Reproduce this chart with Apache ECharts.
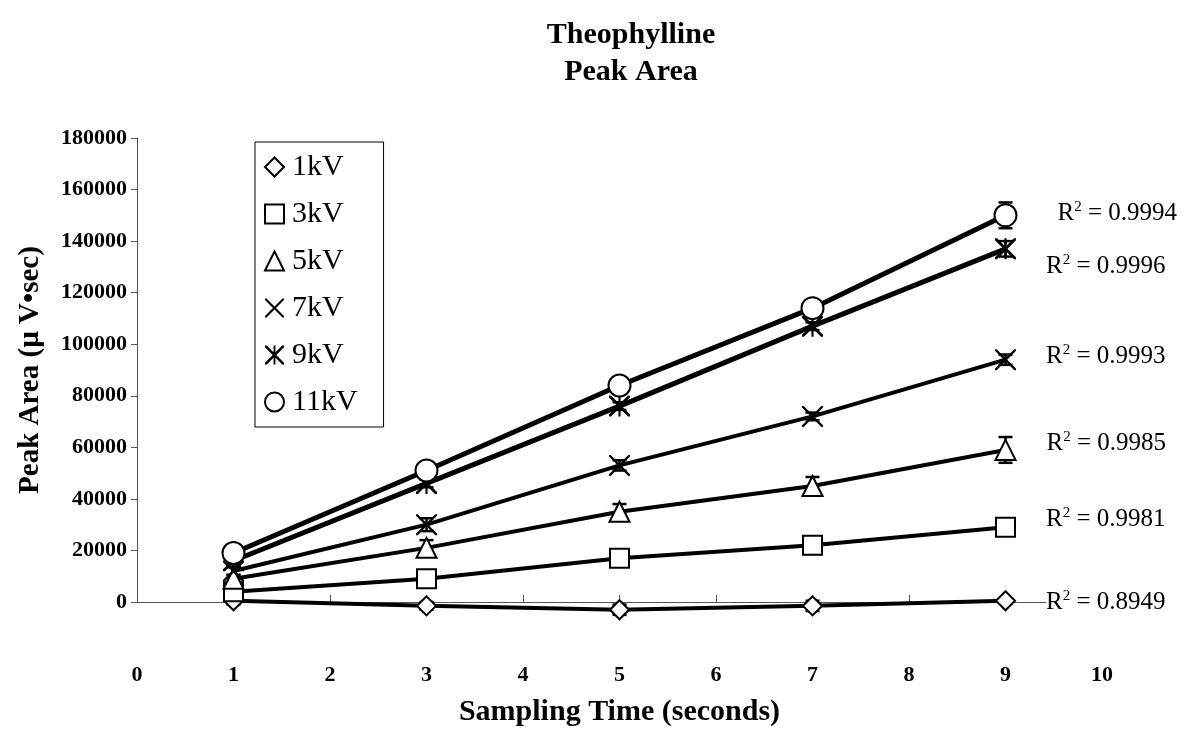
<!DOCTYPE html>
<html>
<head>
<meta charset="utf-8">
<script src="https://cdn.jsdelivr.net/npm/echarts@6/dist/echarts.min.js"></script>
<style>
  html, body { margin: 0; padding: 0; background: #fff; }
  #chart { width: 1198px; height: 732px; }
</style>
</head>
<body>
<div id="chart"></div>
<script>
// sampling times (seconds)
const times = [1, 3, 5, 7, 9];
const seriesNames = ['1kV', '3kV', '5kV', '7kV', '9kV', '11kV'];

// peak area values
const kv1 = [500, -1500, -3000, -1500, 500];
const kv3 = [4000, 9000, 17000, 22000, 29000];
const kv5 = [9000, 21000, 35000, 45000, 59000];
const kv7 = [12000, 30000, 53000, 72000, 94000];
const kv9 = [16000, 46000, 76000, 107000, 137000];
const kv11 = [19000, 51000, 84000, 114000, 150000];

// error bar half-widths
const err1 = [1500, 1500, 2000, 2000, 1000];
const err3 = [1500, 2500, 2500, 3000, 2500];
const err5 = [1500, 3000, 3000, 3500, 5000];
const err7 = [1500, 2500, 2000, 1500, 2000];
const err9 = [1500, 1500, 1500, 1500, 3000];
const err11 = [2000, 1500, 1500, 2000, 5000];

const rSquared = ['0.8949', '0.9981', '0.9985', '0.9993', '0.9996', '0.9994'];

const values = [kv1, kv3, kv5, kv7, kv9, kv11];
const errors = [err1, err3, err5, err7, err9, err11];

const FONT = '"Liberation Serif", "DejaVu Serif", serif';

// X and asterisk markers as filled paths
const xPath = 'path://M0,0 L1.6,0 L10,8.4 L18.4,0 L20,0 L20,1.6 L11.6,10 L20,18.4 L20,20 L18.4,20 L10,11.6 L1.6,20 L0,20 L0,18.4 L8.4,10 L0,1.6 Z';
const starPath = 'path://M0,0 L1.9,0 L10,8.1 L18.1,0 L20,0 L20,1.9 L11.9,10 L20,18.1 L20,20 L18.1,20 L10,11.9 L1.9,20 L0,20 L0,18.1 L8.1,10 L0,1.9 Z M9,0 L11,0 L11,20 L9,20 Z';

const symbols = ['emptyDiamond', 'emptyRect', 'emptyTriangle', xPath, starPath, 'emptyCircle'];
const symbolSizes = [19, 19, 20, 21, 21, 22];
const borderWidths = [2.5, 2.5, 2.5, 0, 0, 2.5];
const lineWidths = [4, 4, 4, 4, 5, 5];
// label nudges for the R² text (style only)
const labelOffsets = [[0, 2], [0, -8], [0, -6], [0, -3], [0, 18], [10, -2]];

const series = [];

seriesNames.forEach(function (name, i) {
    // error bars
    series.push({
        type: 'custom',
        name: name + ' err',
        silent: true,
        z: 3,
        data: times.map(function (t, j) {
            return [t, values[i][j] - errors[i][j], values[i][j] + errors[i][j]];
        }),
        renderItem: function (params, api) {
            const top = api.coord([api.value(0), api.value(2)]);
            const bot = api.coord([api.value(0), api.value(1)]);
            const half = 7;
            const st = { stroke: '#000', lineWidth: 2.5 };
            return {
                type: 'group',
                children: [
                    { type: 'line', shape: { x1: top[0], y1: top[1], x2: bot[0], y2: bot[1] }, style: st },
                    { type: 'line', shape: { x1: top[0] - half, y1: top[1], x2: top[0] + half, y2: top[1] }, style: st },
                    { type: 'line', shape: { x1: bot[0] - half, y1: bot[1], x2: bot[0] + half, y2: bot[1] }, style: st }
                ]
            };
        }
    });

    const data = times.map(function (t, j) {
        const item = { value: [t, values[i][j]] };
        if (j === times.length - 1) {
            item.label = {
                show: true,
                position: 'right',
                distance: 30,
                offset: labelOffsets[i],
                backgroundColor: '#fff',
                formatter: '{a|R}{b|2}{a| = ' + rSquared[i] + '}',
                rich: {
                    a: { fontFamily: FONT, fontSize: 25, color: '#000' },
                    b: { fontFamily: FONT, fontSize: 15, color: '#000', padding: [0, 0, 13, 0] }
                }
            };
        }
        return item;
    });

    series.push({
        type: 'line',
        name: name,
        data: data,
        symbol: symbols[i],
        symbolSize: symbolSizes[i],
        showAllSymbol: true,
        clip: false,
        z: 4,
        lineStyle: { color: '#000', width: lineWidths[i] },
        itemStyle: { color: '#000', borderColor: '#000', borderWidth: borderWidths[i] },
        emphasis: { disabled: true }
    });
});

const option = {
    backgroundColor: '#fff',
    animation: false,
    title: {
        text: 'Theophylline\nPeak Area',
        left: 626,
        textAlign: 'center',
        top: 12,
        textStyle: { fontFamily: FONT, fontSize: 30, fontWeight: 'bold', color: '#000', lineHeight: 37 }
    },
    legend: {
        orient: 'vertical',
        left: 255,
        top: 142,
        padding: [10, 26, 10, 9],
        itemGap: 17,
        itemWidth: 19,
        itemHeight: 19,
        borderColor: '#000',
        borderWidth: 1,
        data: seriesNames.map(function (n, i) {
            return { name: n, icon: symbols[i], itemStyle: { borderWidth: borderWidths[i] } };
        }),
        textStyle: { fontFamily: FONT, fontSize: 30, color: '#000', padding: [0, 0, 0, 3] }
    },
    grid: { left: 137, right: 96, top: 138, bottom: 129 },
    xAxis: {
        type: 'value',
        min: 0,
        max: 10,
        interval: 1,
        name: 'Sampling Time (seconds)',
        nameLocation: 'middle',
        nameGap: 95,
        nameTextStyle: { fontFamily: FONT, fontSize: 30, fontWeight: 'bold', color: '#000' },
        axisLine: { show: true, lineStyle: { color: '#555', width: 1 } },
        axisTick: { show: true, inside: true, length: 7, lineStyle: { color: '#555' } },
        axisLabel: { fontFamily: FONT, fontSize: 22, fontWeight: 'bold', color: '#000', margin: 62 },
        splitLine: { show: false }
    },
    yAxis: {
        type: 'value',
        min: 0,
        max: 180000,
        interval: 20000,
        name: 'Peak Area (µ V•sec)',
        nameLocation: 'middle',
        nameGap: 92,
        nameTextStyle: { fontFamily: FONT, fontSize: 29, fontWeight: 'bold', color: '#000' },
        axisLine: { show: true, lineStyle: { color: '#555', width: 1 } },
        axisTick: { show: true, inside: false, length: 6, lineStyle: { color: '#555' } },
        axisLabel: {
            fontFamily: FONT, fontSize: 22, fontWeight: 'bold', color: '#000', margin: 10,
            formatter: function (v) { return String(v); }
        },
        splitLine: { show: false }
    },
    series: series
};

const chart = echarts.init(document.getElementById('chart'));
chart.setOption(option);
</script>
</body>
</html>
